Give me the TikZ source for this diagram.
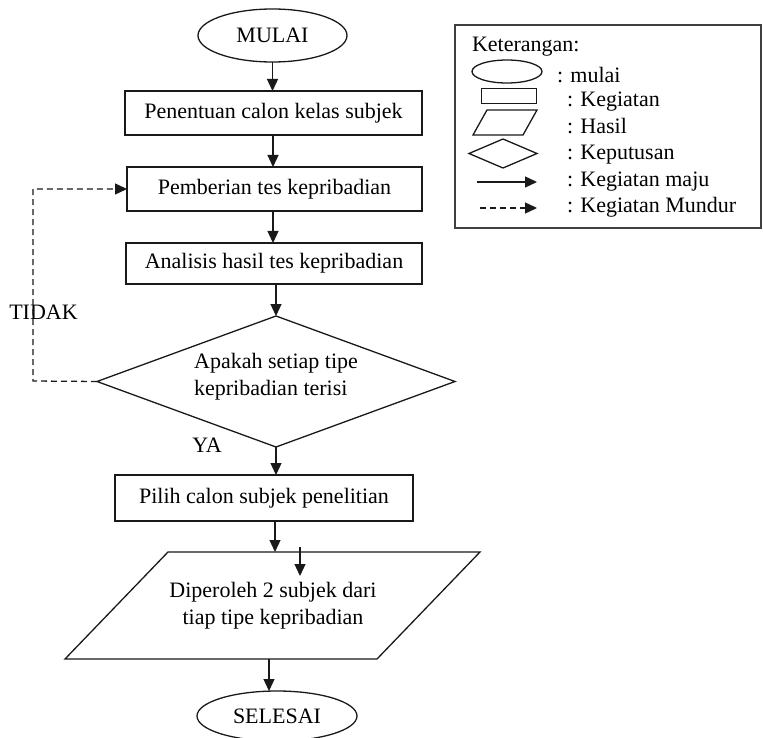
\documentclass[tikz,border=0pt]{standalone}
\usepackage{fontspec}
\setmainfont{Liberation Serif}
\usetikzlibrary{shapes.geometric,arrows.meta,calc}
\begin{document}
\begin{tikzpicture}[x=1pt,y=-1pt,
  every node/.style={font=\fontsize{22}{27}\selectfont, inner sep=0pt, outer sep=0pt},
  line/.style={line width=1.3pt, draw=black!90},
  arr/.style={line, -{Triangle[length=12pt,width=11pt]}},
  darr/.style={arr, dash pattern=on 6pt off 4pt},
  proc/.style={draw=black!90, line width=1.3pt, rectangle},
  term/.style={draw=black!90, line width=1.3pt, ellipse},
  decide/.style={draw=black!90, line width=1.3pt, diamond},
  lbl/.style={anchor=base west},
]
\useasboundingbox (0,0) rectangle (763,738);

% main flow
\node[term, minimum width=149pt, minimum height=53pt] (mulai) at (272.5,35.5) {MULAI};
\node[proc, minimum width=297pt, minimum height=44pt] (b1) at (273.5,113) {Penentuan calon kelas subjek};
\node[proc, minimum width=295pt, minimum height=44pt] (b2) at (274.5,189) {Pemberian tes kepribadian};
\node[proc, minimum width=296pt, minimum height=41pt] (b3) at (274,263.5) {Analisis hasil tes kepribadian};
\node[decide, minimum width=358pt, minimum height=131pt] (dec) at (276,381.5) {};
\node[align=left] (dectext) at (276,376.5) {Apakah setiap tipe\\kepribadian terisi};
\node[proc, minimum width=298pt, minimum height=46pt] (b4) at (264,498) {Pilih calon subjek penelitian};

% parallelogram (hasil)
\coordinate (pTL) at (168,552);
\coordinate (pTR) at (480,552);
\coordinate (pBR) at (377,659);
\coordinate (pBL) at (65,659);
\draw[line] (pTL) -- (pTR) -- (pBR) -- (pBL) -- cycle;
\node[align=center] (hasil) at (273,606) {Diperoleh 2 subjek dari\\tiap tipe kepribadian};

\node[term, minimum width=160pt, minimum height=50pt] (selesai) at (277,716) {SELESAI};

% labels
\node (tidak) at (43.5,312) {TIDAK};
\node (ya) at (207,445) {YA};

% connectors
\draw[arr] (mulai.south) -- (mulai.south |- b1.north);
\draw[arr] (b1.south -| 273,0) -- (b2.north -| 273,0);
\draw[arr] (b2.south -| 273,0) -- (b3.north -| 273,0);
\draw[arr] (dec.north |- b3.south) -- (dec.north);
\draw[arr] (dec.south) -- (dec.south |- b4.north);
\draw[arr] (b4.south -| 275,0) -- (pTL -| 275,0);
\coordinate (s1) at (300,547);
\coordinate (s2) at (300,576);
\draw[arr] (s1) -- (s2);
\draw[arr] (pBL -| 269,0) -- (selesai.north -| 269,0);
\coordinate (bk) at (33,381);
\draw[darr] (dec.west) -- (bk) -- (bk |- b2.west) -- (b2.west);

% legend
\draw[line width=1.6pt, draw=black!75] (455,25) rectangle (761,228);
\node[lbl] (ket) at (472,52) {Keterangan:};
\node[term, minimum width=70pt, minimum height=23pt] (lell) at (507,71.5) {};
\node[lbl] (lmulai) at (557,83) {: mulai};
\node[proc, minimum width=55pt, minimum height=15pt] (lrect) at (509,95.7) {};
\node[lbl] (lkeg) at (567,107) {: Kegiatan};
\draw[line] (487,110) -- (537,110) -- (523,135) -- (473,135) -- cycle;
\node[lbl] (lhasil) at (567,134) {: Hasil};
\node[decide, minimum width=68pt, minimum height=29pt] (ldia) at (503,153.5) {};
\node[lbl] (lkep) at (567,160) {: Keputusan};
\coordinate (la1) at (477,182);
\coordinate (la2) at (537,182);
\draw[arr] (la1) -- (la2);
\node[lbl] (lmaju) at (567,187) {: Kegiatan maju};
\coordinate (ld1) at (480,208);
\coordinate (ld2) at (537,208);
\draw[darr] (ld1) -- (ld2);
\node[lbl] (lmundur) at (567,213) {: Kegiatan Mundur};
\end{tikzpicture}
\end{document}
